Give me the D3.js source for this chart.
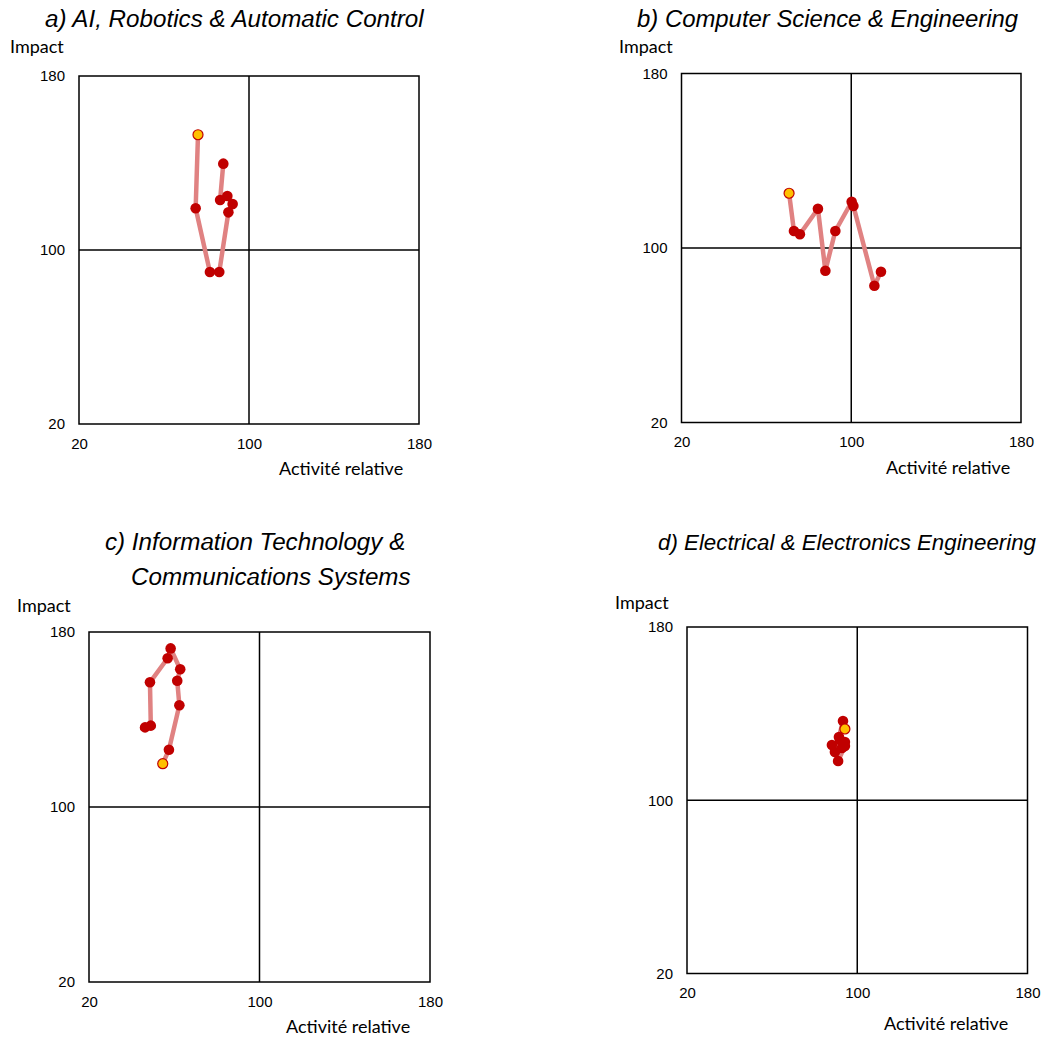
<!DOCTYPE html>
<html>
<head>
<meta charset="utf-8">
<script src="https://cdn.jsdelivr.net/npm/d3@7"></script>
<style>
  body { margin: 0; background: #fff; }
  svg { display: block; }
</style>
</head>
<body>
<svg id="chart" width="1041" height="1037"></svg>
<script>
// Axis ticks shared by all four quadrant charts
const tickValues = [20, 100, 180];

// Panel titles (a multi-line title is an array of lines)
const titleA = ["a) AI, Robotics & Automatic Control"];
const titleB = ["b) Computer Science & Engineering"];
const titleC = ["c) Information Technology &", "Communications Systems"];
const titleD = ["d) Electrical & Electronics Engineering"];

// Trajectories: relative activity (x) and impact (y); the first point is highlighted
const activityA = [76.0, 74.9, 81.6, 86.0, 90.3, 92.3, 89.8, 86.4, 87.9];
const impactA   = [153.0, 119.2, 89.9, 89.9, 117.3, 121.1, 124.8, 123.0, 139.7];

const activityB = [70.7, 73.0, 75.8, 84.3, 87.8, 92.5, 100.2, 101.0, 110.9, 114.0];
const impactB   = [125.1, 107.8, 106.3, 118.0, 89.6, 107.8, 121.2, 119.3, 82.7, 89.1];

const activityC = [54.6, 57.5, 62.4, 61.4, 62.8, 58.3, 56.9, 48.6, 49.0, 46.3];
const impactC   = [119.8, 126.2, 146.5, 157.7, 163.0, 172.5, 168.0, 157.0, 137.2, 136.4];

const activityD = [94.2, 93.3, 91.4, 94.2, 88.1, 92.8, 89.5, 94.2, 91.0, 91.9];
const impactD   = [132.9, 136.6, 129.2, 126.9, 125.5, 124.1, 122.3, 125.0, 118.1, 127.8];

// Page layout of each panel (frame box and label anchors)
const panels = [
  { title: titleA, xs: activityA, ys: impactA,
    box: { l: 79, r: 419, t: 76, b: 424 },
    titleX: [45], titleY: [27], titleSize: 24.2,
    impact: { x: 10, y: 53 }, activite: { x: 279, y: 475 } },
  { title: titleB, xs: activityB, ys: impactB,
    box: { l: 681.5, r: 1021, t: 73.5, b: 422.5 },
    titleX: [637], titleY: [27], titleSize: 23.9,
    impact: { x: 619, y: 53 }, activite: { x: 886, y: 474 } },
  { title: titleC, xs: activityC, ys: impactC,
    box: { l: 89, r: 430, t: 632, b: 982 },
    titleX: [105, 131], titleY: [550, 585], titleSize: 24.2,
    impact: { x: 17, y: 612 }, activite: { x: 286, y: 1033 } },
  { title: titleD, xs: activityD, ys: impactD,
    box: { l: 687, r: 1027.5, t: 627, b: 973.5 },
    titleX: [658], titleY: [550], titleSize: 22.3,
    impact: { x: 615, y: 609 }, activite: { x: 884, y: 1030 } }
];

const svg = d3.select("#chart");
const tickFont = "'Liberation Sans', Arial, sans-serif";
const labelFont = "Lato, 'Open Sans', sans-serif";

panels.forEach(p => {
  const g = svg.append("g");
  const x = d3.scaleLinear().domain([20, 180]).range([p.box.l, p.box.r]);
  const y = d3.scaleLinear().domain([20, 180]).range([p.box.b, p.box.t]);

  // Title
  p.title.forEach((line, i) => {
    g.append("text")
      .attr("x", p.titleX[i]).attr("y", p.titleY[i])
      .attr("font-family", tickFont)
      .attr("font-style", "italic")
      .attr("font-size", p.titleSize)
      .attr("fill", "#000")
      .text(line);
  });

  // Axis tick labels (no tick marks, frame drawn separately)
  const xAxis = g.append("g")
    .attr("transform", `translate(0,${p.box.b + 14})`)
    .call(d3.axisBottom(x).tickValues(tickValues).tickSize(0).tickPadding(0));
  const yAxis = g.append("g")
    .attr("transform", `translate(${p.box.l - 14},0)`)
    .call(d3.axisLeft(y).tickValues(tickValues).tickSize(0).tickPadding(0));
  [xAxis, yAxis].forEach(ax => {
    ax.select(".domain").remove();
    ax.selectAll("text")
      .attr("font-family", tickFont)
      .attr("font-size", 15)
      .attr("fill", "#000");
  });

  // Frame and the quadrant lines at 100
  g.append("rect")
    .attr("x", x(20)).attr("y", y(180))
    .attr("width", x(180) - x(20)).attr("height", y(20) - y(180))
    .attr("fill", "none").attr("stroke", "#000").attr("stroke-width", 1.5);
  g.append("line")
    .attr("x1", x(100)).attr("x2", x(100)).attr("y1", y(20)).attr("y2", y(180))
    .attr("stroke", "#000").attr("stroke-width", 1.5);
  g.append("line")
    .attr("x1", x(20)).attr("x2", x(180)).attr("y1", y(100)).attr("y2", y(100))
    .attr("stroke", "#000").attr("stroke-width", 1.5);

  // Axis titles
  g.append("text")
    .attr("x", p.impact.x).attr("y", p.impact.y)
    .attr("font-family", labelFont).attr("font-size", 18).attr("fill", "#000")
    .text("Impact");
  g.append("text")
    .attr("x", p.activite.x).attr("y", p.activite.y)
    .attr("font-family", labelFont).attr("font-size", 18).attr("fill", "#000")
    .text("Activité relative");

  // Trajectory
  const pts = p.xs.map((v, i) => [v, p.ys[i]]);
  const line = d3.line().x(d => x(d[0])).y(d => y(d[1]));
  g.append("path")
    .datum(pts)
    .attr("d", line)
    .attr("fill", "none")
    .attr("stroke", "#e08282")
    .attr("stroke-width", 4.5)
    .attr("stroke-linejoin", "round");

  g.selectAll("circle.pt")
    .data(pts.slice(1))
    .join("circle")
    .attr("class", "pt")
    .attr("cx", d => x(d[0])).attr("cy", d => y(d[1]))
    .attr("r", 5.3)
    .attr("fill", "#c00000");

  g.append("circle")
    .attr("cx", x(pts[0][0])).attr("cy", y(pts[0][1]))
    .attr("r", 5)
    .attr("fill", "#ffc000")
    .attr("stroke", "#c00000")
    .attr("stroke-width", 1.2);
});
</script>
</body>
</html>
